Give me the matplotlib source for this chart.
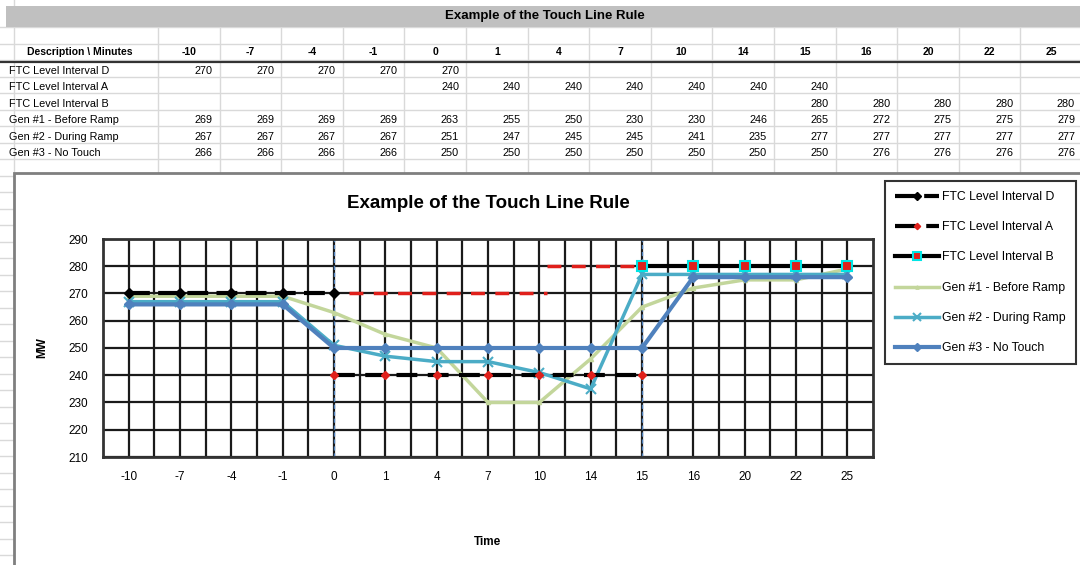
import numpy as np
import matplotlib
matplotlib.use("Agg")
import matplotlib.pyplot as plt
from matplotlib.patches import Rectangle

plt.rcParams["font.family"] = ["Liberation Sans", "DejaVu Sans"]

nan = np.nan
minutes = ["-10", "-7", "-4", "-1", "0", "1", "4", "7", "10", "14", "15", "16", "20", "22", "25"]
row_labels = ["FTC Level Interval D", "FTC Level Interval A", "FTC Level Interval B",
              "Gen #1 - Before Ramp", "Gen #2 - During Ramp", "Gen #3 - No Touch"]

ftc_d = [270, 270, 270, 270, 270, nan, nan, nan, nan, nan, nan, nan, nan, nan, nan]
ftc_a = [nan, nan, nan, nan, 240, 240, 240, 240, 240, 240, 240, nan, nan, nan, nan]
ftc_b = [nan, nan, nan, nan, nan, nan, nan, nan, nan, nan, 280, 280, 280, 280, 280]
gen1 = [269, 269, 269, 269, 263, 255, 250, 230, 230, 246, 265, 272, 275, 275, 279]
gen2 = [267, 267, 267, 267, 251, 247, 245, 245, 241, 235, 277, 277, 277, 277, 277]
gen3 = [266, 266, 266, 266, 250, 250, 250, 250, 250, 250, 250, 276, 276, 276, 276]
table_rows = [ftc_d, ftc_a, ftc_b, gen1, gen2, gen3]

# red "touch" guide lines drawn on the chart (level, from, to) in category units
touch_guides = [(270, 4.3, 8.15), (280, 8.15, 10)]
ramp_marks = [4, 10]  # blue dashed verticals at minute 0 and 15

W, H = 1080, 565
fig = plt.figure(figsize=(W / 100, H / 100), dpi=100)

# ---------- spreadsheet part (pixel coords) ----------
bg = fig.add_axes([0, 0, 1, 1])
bg.set_xlim(0, W)
bg.set_ylim(H, 0)
bg.axis("off")

grid_c = "#d9d9d9"
col_w = 61.6
col_x0 = 158
row_h = 16.5
bg.add_patch(Rectangle((6, 6), W, 21, facecolor="#c0c0c0", edgecolor="none"))
bg.text(545, 16.5, "Example of the Touch Line Rule", ha="center", va="center",
        fontsize=9.5, fontweight="bold")

for y in np.arange(27, H, row_h):
    bg.plot([0, W], [y, y], color=grid_c, lw=1, zorder=0)
for k in range(16):
    xc = col_x0 + k * col_w
    bg.plot([xc, xc], [27, 175], color=grid_c, lw=1, zorder=0)
bg.plot([14, 14], [0, H], color=grid_c, lw=1, zorder=0)

hdr_y = 52
bg.text(80, hdr_y, "Description \\ Minutes", ha="center", va="center",
        fontsize=7.5, fontweight="bold")
for k, m in enumerate(minutes):
    bg.text(col_x0 + (k + 0.5) * col_w, hdr_y, m, ha="center", va="center",
            fontsize=7.5, fontweight="bold")
bg.plot([0, W], [61.5, 61.5], color="#333333", lw=1.6)

for i, (lab, vals) in enumerate(zip(row_labels, table_rows)):
    yc = 62.5 + i * row_h + row_h / 2
    bg.text(9, yc, lab, ha="left", va="center", fontsize=7.8)
    for k, v in enumerate(vals):
        if not np.isnan(v):
            bg.text(col_x0 + (k + 1) * col_w - 7, yc, f"{v:.0f}", ha="right",
                    va="center", fontsize=7.8)

# chart area frame
bg.add_patch(Rectangle((14, 173), W, H, facecolor="white", edgecolor="#7f7f7f",
                       lw=2, zorder=2))

# ---------- chart ----------
ax = fig.add_axes([103 / W, 1 - 457 / H, 770 / W, 218 / H])
x = np.arange(len(minutes))
ax.set_xlim(-0.5, len(minutes) - 0.5)
ax.set_ylim(210, 290)
ax.set_yticks(np.arange(210, 291, 10))
ax.set_xticks(x)
ax.set_xticklabels(minutes)
ax.set_xticks(x[:-1] + 0.5, minor=True)
ax.tick_params(which="both", length=0, labelsize=8.5)
ax.tick_params(axis="x", pad=10)
ax.tick_params(axis="y", pad=11)
ax.grid(which="both", axis="x", color="#1a1a1a", lw=1.6)
ax.grid(which="major", axis="y", color="#1a1a1a", lw=1.6)
ax.set_axisbelow(True)
for s in ax.spines.values():
    s.set_color("#333333")
    s.set_linewidth(2)

for xv in ramp_marks:
    ax.axvline(xv, color="#4F81BD", lw=1, ls=(0, (3, 2)), zorder=2)
for lvl, x1, x2 in touch_guides:
    ax.hlines(lvl, x1, x2, color="#E0201B", lw=2.5, linestyles=(0, (4, 3)), zorder=3)

ax.plot(x, gen1, color="#C3D69B", lw=2.5, marker="^", ms=3, label="Gen #1 - Before Ramp", zorder=4)
ax.plot(x, gen2, color="#4BACC6", lw=2.5, marker="x", ms=7, mew=1.5, label="Gen #2 - During Ramp", zorder=5)
ax.plot(x, gen3, color="#4F81BD", lw=3, marker="D", ms=5, label="Gen #3 - No Touch", zorder=6)
ax.plot(x, ftc_d, color="black", lw=3, ls=(0, (5, 2)), marker="D", ms=5,
        label="FTC Level Interval D", zorder=7)
ax.plot(x, ftc_a, color="black", lw=3, ls=(0, (5, 2.5)), marker="D", ms=4,
        mfc="#E0201B", mec="#E0201B", label="FTC Level Interval A", zorder=7)
ax.plot(x, ftc_b, color="black", lw=3, marker="s", ms=7, mfc="#E0201B",
        mec="#00E5E5", mew=1.5, label="FTC Level Interval B", zorder=7)

ax.set_title("Example of the Touch Line Rule", fontsize=13.5, fontweight="bold", pad=22)
ax.set_xlabel("Time", fontsize=8.5, fontweight="bold", labelpad=38)
ax.set_ylabel("MW", fontsize=8.5, fontweight="bold", labelpad=14)

h, l = ax.get_legend_handles_labels()
order = [3, 4, 5, 0, 1, 2]
leg = fig.legend([h[i] for i in order], [l[i] for i in order],
                 loc="upper left", bbox_to_anchor=(885 / W, 1 - 181 / H),
                 borderaxespad=0, fontsize=8.8, labelspacing=1.5, handlelength=3.6,
                 handletextpad=0.3, borderpad=0.8, markerscale=0.8,
                 fancybox=False, edgecolor="black")
leg.get_frame().set_linewidth(1.5)

fig.savefig("out.png", dpi=100)
